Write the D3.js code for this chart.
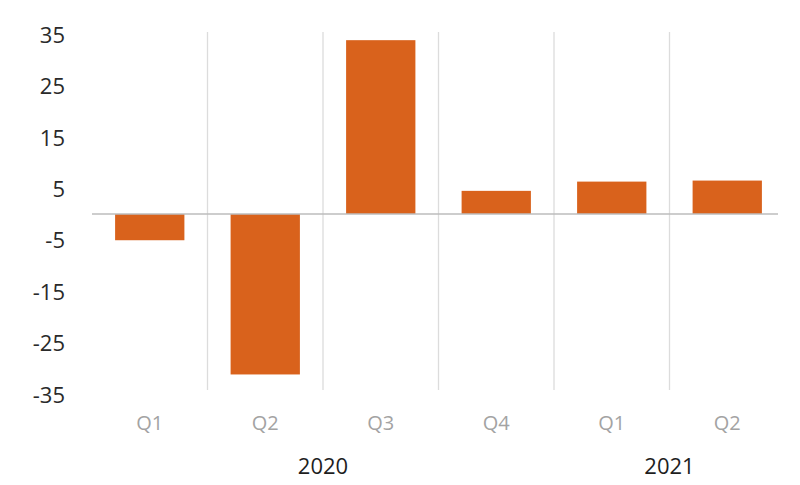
<!DOCTYPE html>
<html>
<head>
<meta charset="utf-8">
<script src="https://cdn.jsdelivr.net/npm/d3@7"></script>
<style>
  body { margin: 0; background: #fff; }
  svg { display: block; }
  text { font-family: "Open Sans", "Noto Sans", sans-serif; }
</style>
</head>
<body>
<div id="chart"></div>
<script>
const quarters = ["Q1", "Q2", "Q3", "Q4", "Q1", "Q2"];
const years = ["2020", "2020", "2020", "2020", "2021", "2021"];
const growth = [-5.1, -31.2, 33.8, 4.5, 6.3, 6.5];
const yTicks = [35, 25, 15, 5, -5, -15, -25, -35];

const width = 800;
const height = 485;

const svg = d3.select("#chart")
  .append("svg")
  .attr("width", width)
  .attr("height", height);

const x = d3.scaleBand()
  .domain(d3.range(growth.length))
  .range([92, 785])
  .paddingInner(0.4)
  .paddingOuter(0.2);

const y = d3.scaleLinear()
  .domain([-35, 35])
  .range([394, 34]);

// vertical separators between quarters
const step = x.step();
svg.append("g")
  .selectAll("line")
  .data(d3.range(1, growth.length))
  .enter()
  .append("line")
  .attr("x1", d => 92 + d * step)
  .attr("x2", d => 92 + d * step)
  .attr("y1", y(35) - 2)
  .attr("y2", y(-35) - 4)
  .attr("stroke", "#dcdcdc")
  .attr("stroke-width", 1.3);

// y labels
svg.append("g")
  .selectAll("text")
  .data(yTicks)
  .enter()
  .append("text")
  .attr("x", 65)
  .attr("y", d => y(d) + 1)
  .attr("dy", "0.35em")
  .attr("text-anchor", "end")
  .style("font-size", "22px")
  .style("fill", "#2a2a2a")
  .text(d => d);

// bars
svg.append("g")
  .selectAll("rect")
  .data(growth)
  .enter()
  .append("rect")
  .attr("x", (d, i) => x(i))
  .attr("width", x.bandwidth())
  .attr("y", d => y(Math.max(0, d)))
  .attr("height", d => Math.abs(y(d) - y(0)))
  .attr("fill", "#d9621c");

// zero line
svg.append("line")
  .attr("x1", 92)
  .attr("x2", 778)
  .attr("y1", y(0))
  .attr("y2", y(0))
  .attr("stroke", "#bdbdbd")
  .attr("stroke-width", 1.5);

// quarter labels
svg.append("g")
  .selectAll("text")
  .data(quarters)
  .enter()
  .append("text")
  .attr("x", (d, i) => x(i) + x.bandwidth() / 2)
  .attr("y", 430)
  .attr("text-anchor", "middle")
  .style("font-size", "20px")
  .style("fill", "#a3a3a3")
  .text(d => d);

// year labels centred on their groups
const yearGroups = d3.groups(d3.range(years.length), i => years[i]);
svg.append("g")
  .selectAll("text")
  .data(yearGroups)
  .enter()
  .append("text")
  .attr("x", d => {
    const idx = d[1];
    return (92 + idx[0] * step + 92 + (idx[idx.length - 1] + 1) * step) / 2;
  })
  .attr("y", 474)
  .attr("text-anchor", "middle")
  .style("font-size", "22px")
  .style("fill", "#1e1e1e")
  .text(d => d[0]);
</script>
</body>
</html>
